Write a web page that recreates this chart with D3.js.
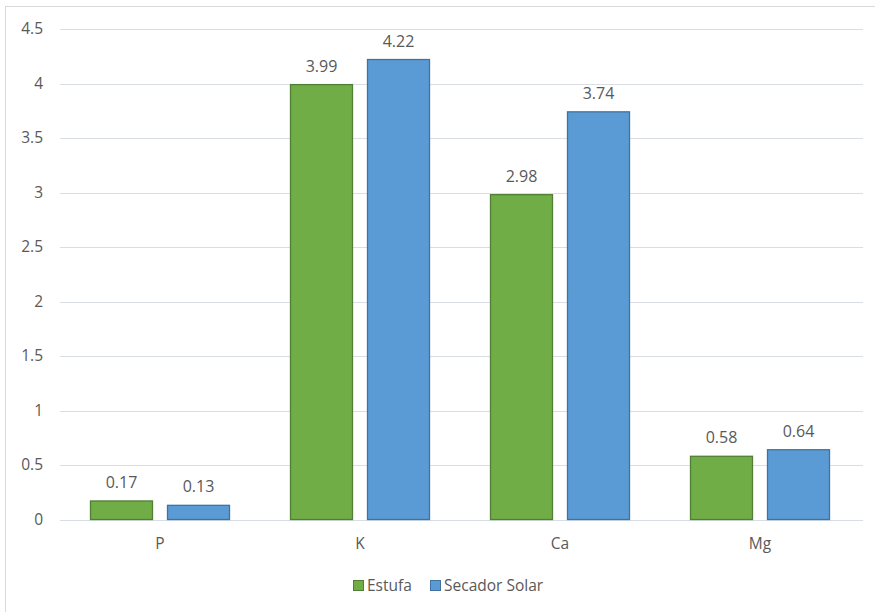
<!DOCTYPE html>
<html><head><meta charset="utf-8">
<script src="https://cdn.jsdelivr.net/npm/d3@7"></script>
<style>body{margin:0;background:#fff}svg{display:block}</style>
</head><body>
<script>
const categories = ["P", "K", "Ca", "Mg"];
const seriesNames = ["Estufa", "Secador Solar"];
const estufa = [0.17, 3.99, 2.98, 0.58];
const secador = [0.13, 4.22, 3.74, 0.64];
const yTicks = [0, 0.5, 1, 1.5, 2, 2.5, 3, 3.5, 4, 4.5];
const fills = ["#70AD47", "#5B9BD5"];
const strokes = ["#507E32", "#41719C"];

const W = 875, H = 612;
const svg = d3.select("body").append("svg").attr("width", W).attr("height", H);
const font = "'Open Sans', 'Liberation Sans', sans-serif";
const txt = "#595959";

// outer border
svg.append("rect").attr("x", 5.5).attr("y", 6.5).attr("width", 880).attr("height", 620)
  .attr("fill", "none").attr("stroke", "#d9d9d9");

const x0 = d3.scaleBand().domain(categories).range([60, 860]).paddingInner(0).paddingOuter(0);
const y = d3.scaleLinear().domain([0, 4.5]).range([519.5, 29]);
const x1 = d3.scaleBand().domain(seriesNames).range([30, 170]).paddingInner(14 / 77);

// gridlines
svg.append("g").selectAll("line").data(yTicks).join("line")
  .attr("x1", 60).attr("x2", 863)
  .attr("y1", d => Math.round(y(d)) + 0.5).attr("y2", d => Math.round(y(d)) + 0.5)
  .attr("stroke", "#d9dde6").attr("stroke-width", 1.2);

// y axis labels
const yAxis = d3.axisLeft(y).tickValues(yTicks).tickSize(0).tickPadding(0).tickFormat(d => String(d));
const ga = svg.append("g").attr("transform", "translate(43,0)").call(yAxis);
ga.select(".domain").remove();
ga.selectAll("text").attr("fill", txt).attr("font-family", font).attr("font-size", 15.5);

const data = categories.map((c, i) => ({ c, vals: [estufa[i], secador[i]] }));

const groups = svg.append("g").selectAll("g").data(data).join("g")
  .attr("transform", d => `translate(${x0(d.c)},0)`);

groups.selectAll("rect").data(d => d.vals.map((v, j) => ({ v, j }))).join("rect")
  .attr("x", d => x1(seriesNames[d.j]) + 0.5)
  .attr("y", d => y(d.v))
  .attr("width", x1.bandwidth() - 1)
  .attr("height", d => y(0) - y(d.v))
  .attr("fill", d => fills[d.j])
  .attr("stroke", d => strokes[d.j]).attr("stroke-width", 1.3);

groups.selectAll("text.val").data(d => d.vals.map((v, j) => ({ v, j }))).join("text")
  .attr("class", "val")
  .attr("x", d => x1(seriesNames[d.j]) + x1.bandwidth() / 2)
  .attr("y", d => y(d.v) - 13)
  .attr("text-anchor", "middle")
  .attr("fill", txt).attr("font-family", font).attr("font-size", 16)
  .text(d => d.v.toFixed(2));

// category labels
const xAxis = d3.axisBottom(x0).tickSize(0).tickPadding(0);
const gx = svg.append("g").attr("transform", "translate(0,538)").call(xAxis);
gx.select(".domain").remove();
gx.selectAll("text").attr("fill", txt).attr("font-family", font).attr("font-size", 15.5);

// legend
const legX = [353, 430];
const leg = svg.append("g").selectAll("g").data(seriesNames).join("g")
  .attr("transform", (d, i) => `translate(${legX[i]},580)`);
leg.append("rect").attr("x", 0.5).attr("y", 0.5).attr("width", 10).attr("height", 10)
  .attr("fill", (d, i) => fills[i]).attr("stroke", (d, i) => strokes[i]);
leg.append("text").attr("x", 14).attr("y", 11)
  .attr("fill", txt).attr("font-family", font).attr("font-size", 15.5).text(d => d);
</script>
</body></html>
